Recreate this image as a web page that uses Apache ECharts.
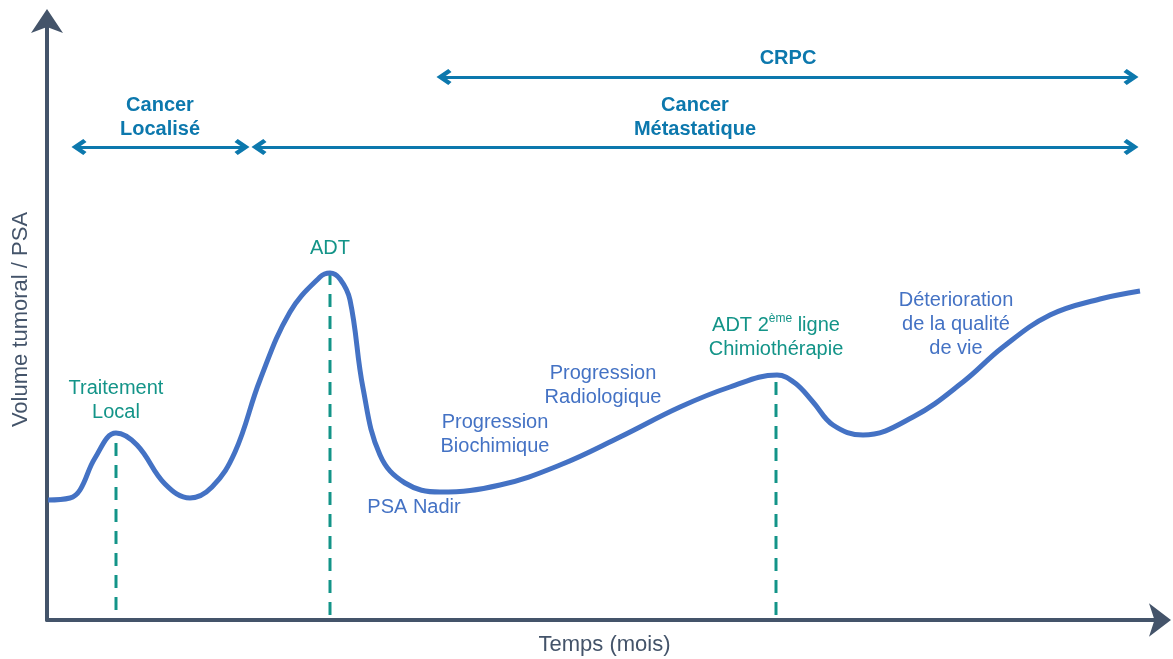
<!DOCTYPE html>
<html>
<head>
<meta charset="utf-8">
<script src="https://cdn.jsdelivr.net/npm/echarts@6/dist/echarts.min.js"></script>
<style>
  html, body { margin: 0; padding: 0; background: #fff; }
  #chart { width: 1173px; height: 659px; }
</style>
</head>
<body>
<div id="chart"></div>
<script>
// courbe du volume tumoral (temps, volume) - unités arbitraires
const curveTime = [1, 23, 33, 48, 69, 90, 118, 143, 165, 188, 213, 243, 273, 283, 293, 303, 316, 333, 358, 393, 453, 513, 573, 633, 683, 730, 748, 766, 786, 816, 866, 916, 956, 1003, 1053, 1093];
const curveVolume = [120, 122, 130, 162, 187, 175, 136, 122, 133, 168, 240, 308, 343, 347, 341, 320, 232, 165, 137, 128, 135, 155, 183, 213, 233, 245, 237, 218, 195, 185, 203, 238, 273, 305, 321, 329];

// événements thérapeutiques (lignes pointillées)
const eventTime = [69, 283, 729];
const eventTop = [187, 348, 245];
const eventBottom = [10, 5, 5];

// périodes (flèches doubles) : début, fin, hauteur
const periodStart = [32, 212, 397];
const periodEnd = [195, 1084, 1084];
const periodLevel = [473, 473, 543];

// étiquettes
const periodLabels = ["Cancer\nLocalisé", "Cancer\nMétastatique", "CRPC"];
const periodLabelPos = [[113, 503], [648, 503], [741, 562]];
const eventLabels = ["Traitement\nLocal", "ADT", "ADT 2{sup|ème} ligne\nChimiothérapie"];
const eventLabelPos = [[69, 220], [283, 372], [729, 283]];
const phaseLabels = ["PSA Nadir", "Progression\nBiochimique", "Progression\nRadiologique", "Déterioration\nde la qualité\nde vie"];
const phaseLabelPos = [[367, 113], [448, 186], [556, 235], [909, 296]];

const AXIS = "#44546A";
const CURVE = "#4472C4";
const TEAL = "#139488";
const ARROW = "#0C78AD";
const FONT = "'Liberation Sans', Arial, sans-serif";

const chart = echarts.init(document.getElementById("chart"));

// chevron ouvert pour les flèches de période
const chevron = "path://M0,11 L10,0 L20,11 L16.2,14 L10,7.2 L3.8,14 Z";

const labelSeries = (names, pos, style) => ({
  type: "scatter",
  symbolSize: 0,
  silent: true,
  z: 10,
  itemStyle: { opacity: 1 },
  data: names.map((n, i) => ({
    value: pos[i],
    label: { formatter: n }
  })),
  label: Object.assign({
    show: true,
    position: "inside",
    align: "center",
    verticalAlign: "middle",
    fontFamily: FONT,
    fontSize: 20,
    lineHeight: 24
  }, style)
});

const option = {
  animation: false,
  grid: { left: 47, right: 11, top: 19, bottom: 39, containLabel: false, outerBoundsMode: "none" },
  xAxis: {
    type: "value",
    min: 0,
    max: 1115,
    name: "Temps (mois)",
    nameLocation: "middle",
    nameGap: 14,
    nameTextStyle: { color: AXIS, fontSize: 22, fontFamily: FONT },
    axisLine: {
      lineStyle: { color: AXIS, width: 4 },
      symbol: ["none", "arrow"],
      symbolSize: [25, 22],
      symbolOffset: [0, 9]
    },
    axisTick: { show: false },
    axisLabel: { show: false },
    splitLine: { show: false }
  },
  yAxis: {
    type: "value",
    min: 0,
    max: 601,
    name: "Volume tumoral / PSA",
    nameLocation: "middle",
    nameGap: 15,
    nameRotate: 90,
    nameTextStyle: { color: AXIS, fontSize: 22, fontFamily: FONT },
    axisLine: {
      lineStyle: { color: AXIS, width: 4 },
      symbol: ["none", "arrow"],
      symbolSize: [24, 24],
      symbolOffset: [0, 10]
    },
    axisTick: { show: false },
    axisLabel: { show: false },
    splitLine: { show: false }
  },
  series: [
    // lignes pointillées des traitements
    ...eventTime.map((t, i) => ({
      type: "line",
      silent: true,
      symbol: "none",
      z: 1,
      lineStyle: { color: TEAL, width: 3, type: [13, 9] },
      data: [[t, eventBottom[i]], [t, eventTop[i]]]
    })),
    {
      type: "line",
      name: "Volume tumoral",
      smooth: 0.4,
      symbol: "none",
      z: 3,
      lineStyle: { color: CURVE, width: 5 },
      data: curveTime.map((t, i) => [t, curveVolume[i]]),
      markLine: {
        silent: true,
        symbol: [chevron, chevron],
        symbolSize: [16, 15],
        label: { show: false },
        lineStyle: { color: ARROW, width: 3, type: "solid" },
        data: periodStart.map((s, i) => [
          { coord: [s, periodLevel[i]] },
          { coord: [periodEnd[i], periodLevel[i]] }
        ])
      }
    },
    labelSeries(periodLabels, periodLabelPos, { color: ARROW, fontWeight: "bold" }),
    labelSeries(eventLabels, eventLabelPos, {
      color: TEAL,
      rich: { sup: { fontSize: 12, verticalAlign: "top", color: TEAL, fontFamily: FONT, padding: [0, 0, 10, 0] } }
    }),
    labelSeries(phaseLabels, phaseLabelPos, { color: CURVE })
  ]
};

chart.setOption(option);
</script>
</body>
</html>
